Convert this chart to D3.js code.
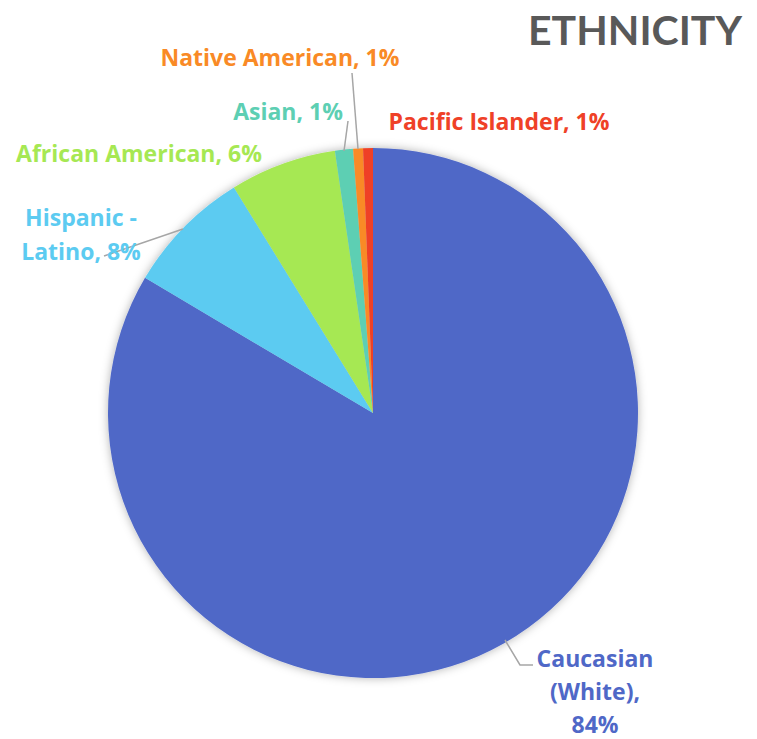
<!DOCTYPE html>
<html>
<head>
<meta charset="utf-8">
<script src="https://cdn.jsdelivr.net/npm/d3@7"></script>
<style>
  html, body { margin: 0; padding: 0; background: #fff; }
  svg { display: block; font-weight: 700; }
</style>
</head>
<body>
<svg id="chart" width="757" height="739"></svg>
<script>
// ---- data ----
const categories = ["Caucasian (White)", "Hispanic - Latino", "African American", "Asian", "Native American", "Pacific Islander"];
const values = [83.6, 7.7, 6.5, 1.1, 0.6, 0.6];
const displayPct = ["84%", "8%", "6%", "1%", "1%", "1%"];
const colors = ["#4F68C7", "#5CCBF1", "#A6E853", "#5DCFB3", "#F98A26", "#EF4127"];
const title = "ETHNICITY";

// ---- layout (not data) ----
const cx = 373, cy = 413, R = 265;
const labelLayout = [
  { lines: ["Caucasian", "(White),", "84%"], x: 595, y: 667, lh: 33, anchor: "middle", leader: [[505, 640], [520, 665], [533, 665]] },
  { lines: ["Hispanic -", "Latino, 8%"], x: 81, y: 226, lh: 34, anchor: "middle", leader: [[104, 256], [183, 229]] },
  { lines: ["African American, 6%"], x: 139, y: 162, anchor: "middle" },
  { lines: ["Asian, 1%"], x: 288, y: 120, anchor: "middle", leader: [[348, 121], [344, 151]] },
  { lines: ["Native American, 1%"], x: 280, y: 66, anchor: "middle", leader: [[352, 73], [358, 149]] },
  { lines: ["Pacific Islander, 1%"], x: 499, y: 130, anchor: "middle" }
];

const svg = d3.select("#chart");

const defs = svg.append("defs");
const f = defs.append("filter").attr("id", "shadow").attr("x", "-20%").attr("y", "-20%").attr("width", "140%").attr("height", "140%");
f.append("feDropShadow").attr("dx", 0).attr("dy", 0).attr("stdDeviation", 5)
  .attr("flood-color", "#000").attr("flood-opacity", 0.3);

const data = categories.map((c, i) => ({ name: c, value: values[i], color: colors[i], layout: labelLayout[i] }));

const pie = d3.pie().value(d => d.value).sort(null);
const arc = d3.arc().innerRadius(0).outerRadius(R);

const g = svg.append("g").attr("transform", `translate(${cx},${cy})`).attr("filter", "url(#shadow)");
g.selectAll("path").data(pie(data)).join("path")
  .attr("d", arc)
  .attr("fill", d => d.data.color);

// leader lines
const line = d3.line();
svg.append("g").selectAll("path").data(data.filter(d => d.layout.leader)).join("path")
  .attr("d", d => line(d.layout.leader))
  .attr("fill", "none").attr("stroke", "#A6A6A6").attr("stroke-width", 1.5);

// labels
const lg = svg.append("g");
data.forEach(d => {
  const L = d.layout;
  const t = lg.append("text")
    .attr("x", L.x).attr("y", L.y)
    .attr("text-anchor", L.anchor)
    .attr("fill", d.color)
    .attr("font-family", "'Open Sans', sans-serif")
    .attr("font-size", 23);
  L.lines.forEach((ln, j) => {
    t.append("tspan").attr("x", L.x).attr("dy", j === 0 ? 0 : L.lh).text(ln);
  });
});

svg.append("text")
  .attr("x", 742).attr("y", 45)
  .attr("text-anchor", "end")
  .attr("fill", "#595959")
  .attr("font-family", "Lato, sans-serif")
  .attr("font-size", 41)
  .text(title);
</script>
</body>
</html>
